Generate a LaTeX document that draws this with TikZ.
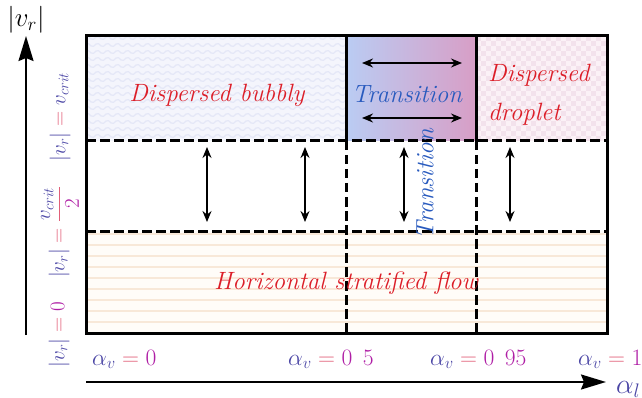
\RequirePackage{fix-cm}
\documentclass[tikz,border=0pt]{standalone}
\usepackage{amsmath}
\usetikzlibrary{arrows.meta}
\definecolor{vc}{RGB}{75,70,165}
\definecolor{oc}{RGB}{225,95,120}
\definecolor{nc}{RGB}{175,30,165}
\definecolor{txtred}{RGB}{220,30,40}
\definecolor{txtblue}{RGB}{40,90,190}
\definecolor{bubblebg}{RGB}{244,245,252}
\definecolor{wavecol}{RGB}{228,231,247}
\definecolor{checkA}{RGB}{251,241,246}
\definecolor{checkB}{RGB}{243,226,236}
\definecolor{stratbg}{RGB}{255,252,248}
\definecolor{stripecol}{RGB}{248,232,216}
\definecolor{gradL}{RGB}{186,204,243}
\definecolor{gradR}{RGB}{216,158,198}
\tikzset{
  frame/.style={line width=3pt, line cap=rect},
  dashline/.style={line width=3pt, dash pattern=on 9.5pt off 4.5pt},
  regiontext/.style={font=\fontsize{25}{29}\selectfont\itshape, inner sep=0pt},
  mathlabel/.style={font=\fontsize{23.5}{27}\selectfont, inner sep=0pt},
  axislabel/.style={font=\fontsize{21}{25}\selectfont, inner sep=0pt, rotate=90},
  dblarrow/.style={line width=1.5pt, {Stealth[length=11pt,width=9pt]}-{Stealth[length=11pt,width=9pt]}},
  axisarrow/.style={line width=2.2pt, -{Stealth[length=25pt,width=15pt,inset=3pt]}}
}
\newcommand{\eqc}{\mathrel{\textcolor{oc}{=}}}
\begin{document}
\begin{tikzpicture}[x=1pt,y=-1pt]
\useasboundingbox (0,0) rectangle (642,398);
% ---- region fills ----
\begin{scope}
\clip (86,36) rectangle (346,141);
\fill[bubblebg] (86,36) rectangle (346,141);
\foreach \yy in {38,45,...,141} {
  \draw[wavecol, line width=1.2pt] plot[domain=86:346, samples=105, smooth] (\x, {\yy+1.6*sin(36*\x)});
}
\end{scope}
\shade[left color=gradL, right color=gradR] (346,36) rectangle (476,141);
\begin{scope}
\clip (476,36) rectangle (607,141);
\fill[checkA] (476,36) rectangle (607,141);
\foreach \i in {0,...,26} {
  \foreach \j in {0,...,10} {
    \fill[checkB] ({476+5*\i},{36+10*\j+5*mod(\i,2)}) rectangle ++(5,5);
  }
}
\end{scope}
\fill[stratbg] (86,231) rectangle (607,333);
\foreach \yy in {234,245,...,330} {
  \draw[stripecol, line width=1.5pt] (86,\yy) -- (607,\yy);
}
% ---- frame ----
\coordinate (TL) at (86,36);
\coordinate (BR) at (607,333);
\draw[frame] (TL) rectangle (BR);
\coordinate (v1t) at (346,36); \coordinate (v1m) at (346,141); \coordinate (v1b) at (346,333);
\coordinate (v2t) at (476,36); \coordinate (v2m) at (476,141); \coordinate (v2b) at (476,333);
\coordinate (h1l) at (86,141); \coordinate (h1r) at (607,141);
\coordinate (h2l) at (86,231); \coordinate (h2r) at (607,231);
\draw[frame] (v1t) -- (v1m);
\draw[frame] (v2t) -- (v2m);
\draw[dashline] (h1l) -- (h1r);
\draw[dashline] (h2l) -- (h2r);
\draw[dashline] (v1m) -- (v1b);
\draw[dashline] (v2m) -- (v2b);
% ---- arrows inside ----
\coordinate (ta1) at (362,63); \coordinate (tb1) at (462,63);
\coordinate (ta2) at (362,118); \coordinate (tb2) at (462,118);
\draw[dblarrow] (ta1) -- (tb1);
\draw[dblarrow] (ta2) -- (tb2);
\foreach \xx/\nm in {207/a,305/b,404/c,510/d} {
  \coordinate (u\nm) at (\xx,147);
  \coordinate (l\nm) at (\xx,222);
  \draw[dblarrow] (u\nm) -- (l\nm);
}
% ---- region texts ----
\node[regiontext, text=txtred] (bubbly) at (217,95) {Dispersed bubbly};
\node[regiontext, text=txtblue] (trans) at (407,94) {Transition};
\node[regiontext, text=txtred, anchor=base west] (disp) at (488,82) {Dispersed};
\node[regiontext, text=txtred, anchor=base west] (drop) at (488,121) {droplet};
\node[regiontext, text=txtblue, rotate=90] (transv) at (425,184) {Transition};
\node[regiontext, text=txtred] (strat) at (346,283) {Horizontal stratified flow};
% ---- axes ----
\coordinate (yb) at (26,335);
\coordinate (yt) at (26,36);
\draw[axisarrow] (yb) -- (yt);
\coordinate (xl) at (86,382);
\coordinate (xr) at (606,382);
\draw[axisarrow] (xl) -- (xr);
\node[font=\fontsize{27}{31}\selectfont, inner sep=0pt] (ylab) at (26,20) {$|v_r|$};
\node[font=\fontsize{28}{32}\selectfont, inner sep=0pt, anchor=base west, text=vc] (xlab) at (616,393) {$\alpha_l$};
% ---- alpha labels ----
\node[mathlabel, anchor=base west] (a0) at (92,365) {$\textcolor{vc}{\alpha_v}\eqc\textcolor{nc}{0}$};
\node[mathlabel, anchor=base west] (a05) at (288,365) {$\textcolor{vc}{\alpha_v}\eqc\textcolor{nc}{0\;\,5}$};
\node[mathlabel, anchor=base west] (a095) at (430,365) {$\textcolor{vc}{\alpha_v}\eqc\textcolor{nc}{0\;\,95}$};
\node[mathlabel, anchor=base west] (a1) at (578,365) {$\textcolor{vc}{\alpha_v}\eqc\textcolor{nc}{1}$};
% ---- v_r labels ----
\node[axislabel] (vcrit) at (60,117) {$\textcolor{vc}{|v_r|}\eqc\textcolor{vc}{v_{crit}}$};
\node[axislabel] (vhalf) at (60,232) {$\textcolor{vc}{|v_r|}\eqc{\color{oc}\dfrac{\textcolor{vc}{v_{crit}}}{\textcolor{nc}{2}}}$};
\node[axislabel] (vzero) at (59,335) {$\textcolor{vc}{|v_r|}\eqc\textcolor{nc}{0}$};
\end{tikzpicture}
\end{document}
